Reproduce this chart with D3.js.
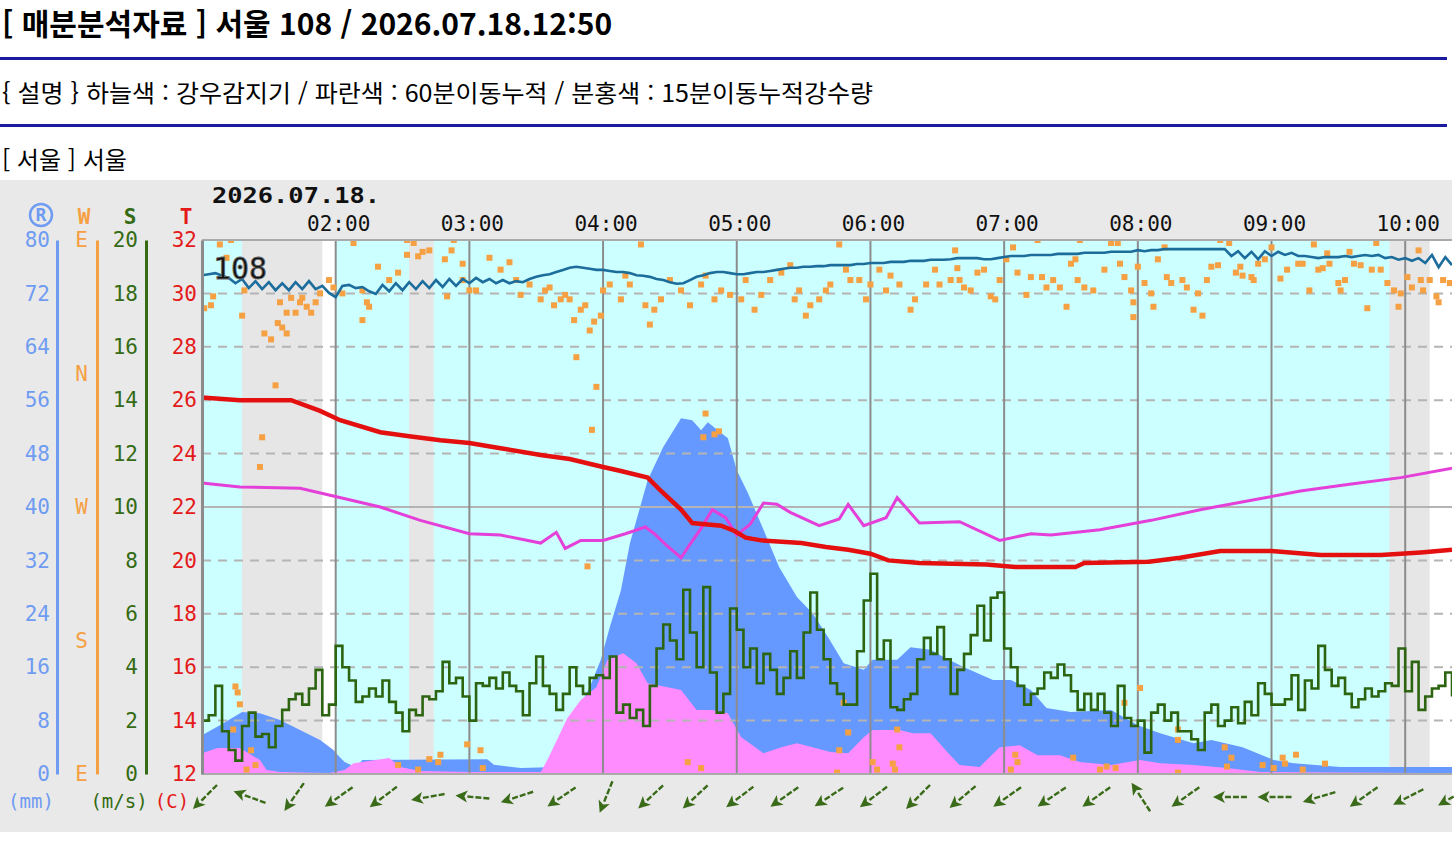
<!DOCTYPE html>
<html lang="ko">
<head>
<meta charset="utf-8">
<script src="https://cdn.jsdelivr.net/npm/d3@7"></script>
<style>
  body { margin: 0; background: #fff; }
  svg { display: block; }
</style>
</head>
<body>
<div id="chart"></div>
<script>
// Header texts.
const titleText = '[ 매분분석자료 ] 서울 108 / 2026.07.18.12:50';
const descText = '{ 설명 } 하늘색 : 강우감지기 / 파란색 : 60분이동누적 / 분홍색 : 15분이동누적강수량';
const stationText = '[ 서울 ] 서울';
const dateLabel = '2026.07.18.';
const stationNo = '108';

// Axis ticks.
const hourTicks = ['02:00', '03:00', '04:00', '05:00', '06:00', '07:00', '08:00', '09:00', '10:00'];
const tempTicks = [12, 14, 16, 18, 20, 22, 24, 26, 28, 30, 32];
const rainTicks = [0, 8, 16, 24, 32, 40, 48, 56, 64, 72, 80];
const speedTicks = [0, 2, 4, 6, 8, 10, 12, 14, 16, 18, 20];
const dirTickVals = [90, 0, -90, -180, -270];
const dirTickLabels = ['E', 'N', 'W', 'S', 'E'];

// Rain sensor bands (minutes after 01:00).
const bandStart = [0, 18, 54, 60, 93, 104, 533, 551];
const bandEnd = [18, 54, 60, 93, 104, 533, 551, 561];
const bandKind = ['rain', 'dry', 'none', 'rain', 'dry', 'rain', 'dry', 'none'];

// Temperature (C).
const tempMin = [0, 17, 40, 53, 62, 80, 93, 107, 120, 134, 152, 165, 180, 188, 200, 206, 215, 220, 233, 239,
  244, 251, 269, 280, 290, 300, 308, 322, 352, 365, 392, 396, 425, 439, 457, 480, 502, 529, 547, 561];
const tempVal = [26.1, 26.0, 26.0, 25.6, 25.25, 24.8, 24.65, 24.5, 24.4, 24.2, 23.95, 23.8, 23.5, 23.35, 23.1, 22.6, 21.9, 21.4, 21.3, 21.1,
  20.85, 20.75, 20.65, 20.5, 20.4, 20.25, 20.0, 19.9, 19.85, 19.75, 19.75, 19.9, 19.95, 20.1, 20.35, 20.35, 20.2, 20.2, 20.3, 20.4];

// Magenta line, read on the T scale.
const magMin = [0, 17, 44, 57, 80, 98, 120, 134, 152, 159, 163, 170, 180, 190, 199, 203, 208, 215, 219, 224,
  229, 235, 240, 246, 252, 258, 264, 277, 286, 290, 297, 307, 312, 322, 340, 358, 372, 381, 403, 426,
  448, 471, 493, 515, 538, 561];
const magVal = [22.9, 22.75, 22.7, 22.45, 22.0, 21.5, 21.0, 20.95, 20.65, 21.05, 20.45, 20.75, 20.75, 21.0, 21.25, 21.0, 20.6, 20.1, 20.6, 21.2,
  21.9, 21.6, 20.95, 21.35, 22.15, 22.1, 21.8, 21.3, 21.55, 22.1, 21.3, 21.6, 22.35, 21.4, 21.45, 20.75, 21.0, 20.95, 21.15, 21.5,
  21.9, 22.25, 22.6, 22.85, 23.1, 23.45];

// 60-minute moving accumulation (mm).
const rain60Min = [0, 8, 18, 26, 35, 44, 53, 59, 61, 64, 69, 72, 128, 131, 143, 155, 159, 164, 168, 174,
  179, 183, 188, 192, 200, 207, 215, 220, 224, 227, 236, 240, 245, 252, 259, 267, 274, 281, 288, 297,
  301, 312, 318, 327, 333, 342, 355, 363, 372, 379, 390, 408, 420, 430, 445, 453, 467, 481, 490, 511, 561];
const rain60Val = [5.8, 7.3, 9.3, 9.1, 8.1, 6.6, 5.1, 3.6, 2.8, 1.8, 1.0, 2.1, 2.2, 1.4, 0.9, 1.0, 2.5, 6.1, 9.1, 13.0,
  17.1, 22.0, 27.5, 34.5, 44.0, 49.0, 53.3, 53.0, 51.5, 52.7, 50.3, 45.5, 42.1, 36.6, 31.0, 26.5, 24.1, 20.5, 16.6, 15.6,
  17.1, 17.1, 19.0, 18.6, 17.5, 16.0, 14.1, 14.1, 12.6, 9.9, 9.3, 9.6, 7.3, 6.1, 4.6, 5.1, 4.0, 2.1, 1.6, 1.05, 1.05];

// 15-minute moving accumulation (mm).
const rain15Min = [0, 7, 17, 26, 29, 35, 57, 64, 68, 78, 84, 89, 98, 120, 152, 155, 164, 170, 177, 182,
  189, 195, 200, 209, 215, 222, 229, 236, 242, 252, 260, 267, 274, 282, 290, 297, 301, 313, 319, 327,
  335, 340, 349, 358, 367, 375, 385, 394, 408, 421, 430, 445, 460, 475, 550, 561];
const rain15Val = [3.1, 3.9, 3.9, 2.1, 0.6, 0.3, 0.15, 0.6, 1.6, 2.1, 2.4, 1.05, 0.45, 0.3, 0.3, 2.1, 8.4, 11.1, 13.0, 17.1,
  18.1, 16.6, 13.6, 13.0, 12.6, 9.6, 9.6, 9.1, 5.5, 3.1, 4.0, 4.6, 4.0, 3.3, 3.1, 5.5, 6.6, 6.6, 6.1, 6.1,
  3.1, 1.35, 1.05, 4.0, 4.3, 2.8, 2.8, 1.8, 1.35, 2.1, 1.6, 1.35, 0.9, 0.3, 0.15, 0.15];

// 3-minute readings from 01:00: humidity (%) and wind speed (m/s).
const STEP_MIN = 3;
const humVals = [
  93.4, 93.6, 93.8, 93.3, 92.9, 91.9, 92.7, 91.0, 92.3, 90.8,
  92.1, 90.6, 91.9, 90.6, 92.1, 90.8, 92.3, 90.8, 91.4, 90.1,
  89.3, 91.4, 91.6, 91.0, 91.2, 90.4, 89.9, 91.6, 90.4, 91.9,
  90.6, 92.1, 90.8, 92.3, 91.0, 92.5, 91.2, 92.7, 91.4, 92.7,
  91.9, 92.9, 92.1, 92.7, 91.9, 92.5, 91.9, 92.3, 92.1, 92.7,
  93.1, 93.4, 93.6, 94.0, 94.4, 94.8, 95.0, 94.8, 94.6, 94.4,
  94.4, 94.2, 94.0, 94.0, 93.8, 93.4, 93.3, 93.1, 92.7, 92.5,
  92.1, 91.8, 91.9, 92.5, 93.1, 93.4, 93.8, 94.0, 94.0, 93.8,
  93.6, 93.6, 93.8, 94.0, 94.0, 94.2, 94.4, 94.6, 94.8, 94.8,
  95.0, 95.0, 95.1, 95.1, 95.3, 95.3, 95.3, 95.3, 95.5, 95.5,
  95.7, 95.7, 95.7, 95.9, 95.9, 95.9, 96.1, 96.1, 96.1, 96.3,
  96.3, 96.3, 96.4, 96.6, 96.6, 96.6, 96.6, 96.4, 96.4, 96.6,
  96.8, 97.0, 97.0, 97.0, 97.2, 97.2, 97.2, 97.2, 97.4, 97.4,
  97.4, 97.4, 97.6, 97.6, 97.6, 97.6, 97.8, 97.8, 97.8, 97.8,
  98.1, 97.9, 98.1, 98.1, 98.3, 98.3, 98.3, 98.3, 98.3, 98.3,
  98.3, 98.3, 98.3, 98.3, 97.0, 97.9, 96.6, 97.8, 96.4, 97.9,
  97.0, 97.8, 97.2, 97.6, 97.0, 97.0, 96.8, 96.6, 96.8, 96.8,
  96.8, 97.0, 96.8, 97.0, 97.2, 97.0, 97.2, 96.6, 96.8, 96.3,
  96.6, 96.1, 96.6, 95.7, 97.2, 94.9, 96.8, 95.3];
const speedVals = [
  2.0, 2.2, 3.3, 1.6, 0.9, 0.5, 1.8, 2.3, 1.4, 1.5,
  1.0, 1.8, 2.4, 2.8, 3.0, 2.6, 3.2, 3.9, 2.2, 2.6,
  4.8, 4.0, 3.5, 2.7, 2.9, 3.2, 2.9, 3.5, 2.7, 2.3,
  1.6, 2.4, 2.2, 2.9, 2.8, 3.1, 4.2, 3.4, 3.6, 2.9,
  2.0, 3.4, 3.3, 3.6, 3.2, 3.8, 3.3, 3.1, 2.2, 3.4,
  4.4, 3.3, 3.0, 2.4, 3.0, 4.0, 3.3, 3.0, 3.6, 3.7,
  3.6, 4.4, 2.3, 2.6, 2.1, 2.4, 1.8, 3.3, 4.7, 5.6,
  5.0, 4.3, 6.9, 5.3, 4.0, 7.0, 3.8, 2.3, 3.0, 6.2,
  5.4, 4.0, 4.7, 3.4, 4.5, 3.9, 3.0, 3.6, 4.6, 3.6,
  5.3, 6.8, 5.4, 4.3, 3.4, 3.0, 2.6, 2.6, 4.6, 6.5,
  7.5, 4.3, 5.0, 2.5, 2.4, 2.8, 3.0, 4.3, 5.1, 4.5,
  5.5, 4.3, 3.0, 3.9, 4.5, 5.2, 6.3, 5.0, 6.6, 6.8,
  4.7, 4.0, 3.3, 2.6, 3.0, 3.2, 3.8, 3.6, 4.1, 3.7,
  3.1, 2.4, 3.0, 2.4, 3.0, 2.3, 1.8, 3.3, 2.1, 1.8,
  2.0, 0.8, 2.3, 2.6, 2.0, 2.3, 1.6, 1.6, 1.3, 0.9,
  2.3, 2.6, 1.8, 2.0, 2.5, 1.9, 2.7, 2.2, 3.4, 3.0,
  2.6, 2.6, 2.8, 3.7, 2.4, 3.5, 3.2, 4.8, 3.9, 3.3,
  3.6, 3.0, 2.5, 2.8, 3.2, 2.9, 3.1, 3.4, 3.3, 4.7,
  3.1, 4.2, 2.4, 2.9, 3.2, 3.3, 3.8, 2.9];

// Wind direction dots (minute after 01:00, degrees).
const dotMin = [1, 4, 5, 8, 13, 11, 18, 19, 28, 31, 34, 36, 38, 35, 38, 40, 42, 44, 45, 47,
  49, 51, 53, 57, 59, 63, 68, 72, 74, 75, 72, 79, 84, 88, 92, 95, 92, 97, 99, 102,
  109, 110, 113, 112, 117, 117, 120, 123, 33, 27, 26,
  15, 16, 17, 14, 22, 24, 20, 88, 97, 102, 106, 107, 119, 125, 126, 173,
  129, 134, 138, 141, 143, 147, 152, 154, 156, 158, 161, 163, 165, 167, 170, 172, 174, 176, 179, 180,
  183, 188, 190, 192, 197, 199, 201, 203, 206, 210, 215, 219, 224, 226, 230, 233, 237, 242, 244, 248,
  251, 255, 260, 264, 266, 268, 271, 273, 277, 280, 282, 286, 289, 291, 295, 298, 300, 304, 307, 309,
  313, 318, 320, 325, 329, 331, 336,
  168, 177, 175, 226, 225, 230, 232, 218, 224, 288, 290, 286, 285, 301, 303, 310, 311, 313, 312,
  338, 339, 340, 342, 345, 348, 351, 354, 356, 358, 361, 364, 366, 370, 372, 375, 377, 379, 382, 385,
  388, 390, 392, 393, 394, 396, 400, 405, 408, 411, 412, 414, 417, 418, 418, 420, 423, 426, 427, 429,
  432, 433, 435, 440, 442, 445, 447, 449, 451, 453, 456, 457, 461, 464, 466, 467, 471, 472, 474, 477,
  480, 484, 487, 492, 494, 497, 499, 501, 503, 505, 506, 510, 511, 513, 515, 517, 520, 523, 525, 527,
  529, 532, 535, 537, 538, 541, 543, 546, 547, 548, 551, 554, 555, 557, 560,
  365, 366, 363, 391, 403, 406, 410, 414, 421, 438, 438, 438, 459, 462, 460, 476, 485, 486, 491, 494, 504, 481];
const dotDir = [44, 46, 52, 87, 90, 78, 39, 56, 27, 23, 34, 31, 27, 48, 41, 51, 41, 48, 51, 45,
  41, 48, 54, 63, 58, 54, 88, 56, 48, 45, 36, 72, 63, 68, 90, 88, 80, 79, 82, 83,
  77, 52, 90, 83, 74, 63, 56, 56, 352, 317, 297,
  149, 145, 137, 120, 106, 96, 93, 96, 93, 100, 98, 103, 110, 106, 94, 230,
  78, 70, 75, 63, 53, 60, 50, 56, 58, 46, 50, 53, 50, 36, 43, 46, 29, 35, 39, 56,
  60, 50, 66, 60, 87, 46, 33, 43, 50, 63, 56, 46, 60, 66, 50, 56, 53, 50, 63, 43,
  53, 63, 68, 73, 50, 56, 39, 46, 50, 56, 60, 87, 70, 63, 63, 50, 60, 70, 56, 66,
  60, 43, 50, 60, 70, 60, 63,
  11, 351, 322, 333, 317, 319, 321, 98, 94, 138, 118, 106, 91, 98, 93, 97, 93, 108, 120,
  83, 71, 63, 58, 56, 68, 70, 52, 50, 63, 77, 85, 68, 53, 65, 90, 65, 58, 63, 58,
  45, 74, 77, 63, 90, 58, 56, 70, 88, 88, 74, 65, 56, 38, 48, 72, 61, 54, 45, 77,
  85, 65, 61, 63, 58, 43, 54, 39, 63, 72, 73, 90, 88, 68, 72, 66, 65, 63, 74, 77,
  85, 64, 70, 74, 74, 56, 87, 70, 71, 81, 74, 61, 56, 63, 82, 74, 73, 44, 70, 88,
  70, 61, 56, 45, 54, 65, 58, 83, 63, 56, 63, 52, 48, 63, 61,
  103, 98, 93, 101, 93, 95, 94, 138, 148, 120, 113, 91, 108, 101, 95, 96, 101, 97, 103, 93, 97, 94];

// Wind arrows every 20 minutes from 01:00 (direction wind blows from, degrees).
const ARROW_STEP_MIN = 20;
const arrowDir = [45, 110, 35, 55, 53, 80, 95, 72, 56, 22, 47, 47, 53, 55, 57, 53, 45, 50, 55, 56,
  55, 147, 55, 90, 90, 73, 55, 63, 60];

// Dimensions.
const width = 1454, height = 846;
const plot = { left: 202, right: 1452, top: 240, bottom: 774 };

const t0 = new Date(2026, 6, 18, 1, 0);
const at = m => d3.timeMinute.offset(t0, m);
const parseHour = d3.timeParse('%Y-%m-%d %H:%M');

// Scales.
const xScale = d3.scaleTime().domain([at(0), at(561)]).range([plot.left, plot.right]);
const yT = d3.scaleLinear().domain([12, 32]).range([plot.bottom, plot.top]);
const yR = d3.scaleLinear().domain([0, 80]).range([plot.bottom, plot.top]);
const yS = d3.scaleLinear().domain([0, 20]).range([plot.bottom, plot.top]);
const yH = d3.scaleLinear().domain([0, 100]).range([plot.bottom, plot.top]);
const yDir = d3.scaleLinear().domain([90, -270]).range([plot.top, plot.bottom]);
const unwrap = d => (d > 90 ? d - 360 : d);

const bandColor = { rain: '#ccffff', dry: '#e6e6e6', none: '#ffffff' };
const mono = "'DejaVu Sans Mono', monospace";
const kr = "'Noto Sans CJK KR', 'Noto Sans', sans-serif";

const svg = d3.select('#chart').append('svg')
  .attr('width', width)
  .attr('height', height);

// Page header.
svg.append('text')
  .attr('x', 2).attr('y', 35)
  .attr('font-family', kr).attr('font-size', 30).attr('font-weight', 'bold')
  .text(titleText);
svg.append('rect').attr('x', 0).attr('y', 57).attr('width', 1447).attr('height', 3).attr('fill', '#1b1ba0');
svg.append('text')
  .attr('x', 2).attr('y', 102)
  .attr('font-family', kr).attr('font-size', 24)
  .attr('textLength', 871).attr('lengthAdjust', 'spacingAndGlyphs')
  .text(descText);
svg.append('rect').attr('x', 0).attr('y', 124).attr('width', 1447).attr('height', 3).attr('fill', '#1b1ba0');
svg.append('text')
  .attr('x', 2).attr('y', 169)
  .attr('font-family', kr).attr('font-size', 24)
  .attr('textLength', 125).attr('lengthAdjust', 'spacingAndGlyphs')
  .text(stationText);

// Chart panel.
svg.append('rect').attr('x', 0).attr('y', 180).attr('width', plot.right).attr('height', 652).attr('fill', '#e9e9e9');

svg.append('defs').append('clipPath').attr('id', 'plot-clip')
  .append('rect')
  .attr('x', plot.left).attr('y', plot.top)
  .attr('width', plot.right - plot.left).attr('height', plot.bottom - plot.top);

const chart = svg.append('g').attr('clip-path', 'url(#plot-clip)');

// Rain sensor bands.
chart.selectAll('.band')
  .data(bandStart.map((s, i) => ({ s, e: bandEnd[i], kind: bandKind[i] })))
  .enter().append('rect')
  .attr('class', 'band')
  .attr('x', d => xScale(at(d.s)))
  .attr('y', plot.top)
  .attr('width', d => xScale(at(d.e)) - xScale(at(d.s)))
  .attr('height', plot.bottom - plot.top)
  .attr('fill', d => bandColor[d.kind]);

// Rain areas.
const areaGen = d3.area()
  .x(d => xScale(at(d.m)))
  .y0(yR(0))
  .y1(d => yR(d.v));
chart.append('path')
  .attr('d', areaGen(rain60Min.map((m, i) => ({ m, v: rain60Val[i] }))))
  .attr('fill', '#6699ff');
chart.append('path')
  .attr('d', areaGen(rain15Min.map((m, i) => ({ m, v: rain15Val[i] }))))
  .attr('fill', '#ff8cff');

// Grid.
chart.selectAll('.hgrid')
  .data(tempTicks.filter(t => t > 12 && t < 32))
  .enter().append('line')
  .attr('x1', plot.left).attr('x2', plot.right)
  .attr('y1', d => yT(d)).attr('y2', d => yT(d))
  .attr('stroke', '#b4b4b4').attr('stroke-width', 2)
  .attr('stroke-dasharray', d => (d === 22 ? null : '9,7'));

chart.selectAll('.vgrid')
  .data(hourTicks)
  .enter().append('line')
  .attr('x1', d => xScale(parseHour('2026-07-18 ' + d)))
  .attr('x2', d => xScale(parseHour('2026-07-18 ' + d)))
  .attr('y1', plot.top).attr('y2', plot.bottom)
  .attr('stroke', '#8c8c8c').attr('stroke-width', 2);

[32, 12].forEach(t => {
  svg.append('line')
    .attr('x1', plot.left).attr('x2', plot.right)
    .attr('y1', yT(t)).attr('y2', yT(t))
    .attr('stroke', '#aaaaaa').attr('stroke-width', 2);
});

// Wind direction dots.
chart.selectAll('.dir-dot')
  .data(dotMin.map((m, i) => ({ m, d: dotDir[i] })))
  .enter().append('rect')
  .attr('x', d => xScale(at(d.m)) - 3)
  .attr('y', d => yDir(unwrap(d.d)) - 3)
  .attr('width', 6).attr('height', 6)
  .attr('fill', '#f5a042');

// Humidity line.
const stepLine = (yFn) => d3.line()
  .x((d, i) => xScale(at(i * STEP_MIN)))
  .y(d => yFn(d));

chart.append('path')
  .attr('d', stepLine(yH)(humVals))
  .attr('fill', 'none').attr('stroke', '#1c6c9c').attr('stroke-width', 2.6);

// Magenta and temperature lines.
const tLine = d3.line().x(d => xScale(at(d.m))).y(d => yT(d.v));
chart.append('path')
  .attr('d', tLine(magMin.map((m, i) => ({ m, v: magVal[i] }))))
  .attr('fill', 'none').attr('stroke', '#e43fd8').attr('stroke-width', 3);
chart.append('path')
  .attr('d', tLine(tempMin.map((m, i) => ({ m, v: tempVal[i] }))))
  .attr('fill', 'none').attr('stroke', '#e41010').attr('stroke-width', 4.5);

// Wind speed line.
chart.append('path')
  .attr('d', stepLine(yS).curve(d3.curveStepAfter)(speedVals))
  .attr('fill', 'none').attr('stroke', '#2c6410').attr('stroke-width', 2.6);

// Station label inside plot.
svg.append('text')
  .attr('x', 213).attr('y', 279)
  .attr('font-family', mono).attr('font-size', 30)
  .attr('fill', '#111')
  .attr('stroke', '#666').attr('stroke-width', 0.8)
  .text(stationNo);

// Left axes.
function styleAxis(g, lineColor, lineWidth, textColor) {
  g.select('.domain').attr('stroke', lineColor).attr('stroke-width', lineWidth);
  g.selectAll('.tick line').remove();
  g.selectAll('.tick text')
    .attr('fill', textColor)
    .attr('font-family', mono)
    .attr('font-size', 21);
}

svg.append('g')
  .attr('transform', 'translate(57,0)')
  .call(d3.axisLeft(yR).tickValues(rainTicks).tickSize(0).tickPadding(7))
  .call(g => styleAxis(g, '#6f9cf2', 3, '#6f9cf2'));

svg.append('g')
  .attr('transform', 'translate(97,0)')
  .call(d3.axisLeft(yDir).tickValues(dirTickVals).tickFormat((d, i) => dirTickLabels[i]).tickSize(0).tickPadding(9))
  .call(g => styleAxis(g, '#f5a042', 3, '#f5a042'));

svg.append('g')
  .attr('transform', 'translate(146,0)')
  .call(d3.axisLeft(yS).tickValues(speedTicks).tickSize(0).tickPadding(8))
  .call(g => styleAxis(g, '#346b14', 3, '#346b14'));

svg.append('g')
  .attr('transform', `translate(${plot.left},0)`)
  .call(d3.axisLeft(yT).tickValues(tempTicks).tickSize(0).tickPadding(5))
  .call(g => styleAxis(g, '#8c8c8c', 3, '#e41a1a'));

// Axis headers.
const rg = svg.append('g').attr('transform', 'translate(41,215)');
rg.append('circle').attr('r', 11).attr('fill', 'none').attr('stroke', '#6f9cf2').attr('stroke-width', 2.5);
rg.append('text').attr('text-anchor', 'middle').attr('dy', '0.36em')
  .attr('font-family', mono).attr('font-size', 18).attr('font-weight', 'bold')
  .attr('fill', '#6f9cf2').text('R');
const heads = [
  { x: 84, t: 'W', c: '#f5a042' },
  { x: 130, t: 'S', c: '#346b14' },
  { x: 186, t: 'T', c: '#e41a1a' }
];
svg.selectAll('.head')
  .data(heads)
  .enter().append('text')
  .attr('x', d => d.x).attr('y', 224)
  .attr('text-anchor', 'middle')
  .attr('font-family', mono).attr('font-size', 21).attr('font-weight', 'bold')
  .attr('fill', d => d.c)
  .text(d => d.t);

// Units.
const units = [
  { x: 31, t: '(mm)', c: '#6f9cf2' },
  { x: 119, t: '(m/s)', c: '#346b14' },
  { x: 172, t: '(C)', c: '#e41a1a' }
];
svg.selectAll('.unit')
  .data(units)
  .enter().append('text')
  .attr('x', d => d.x).attr('y', 808)
  .attr('text-anchor', 'middle')
  .attr('font-family', mono).attr('font-size', 19)
  .attr('fill', d => d.c)
  .text(d => d.t);

// Date and hour labels.
svg.append('text')
  .attr('x', 212).attr('y', 203)
  .attr('font-family', mono).attr('font-size', 21).attr('font-weight', 'bold')
  .attr('textLength', 168).attr('lengthAdjust', 'spacingAndGlyphs')
  .attr('fill', '#111')
  .text(dateLabel);

svg.selectAll('.hour-label')
  .data(hourTicks)
  .enter().append('text')
  .attr('x', d => xScale(parseHour('2026-07-18 ' + d)) + 3)
  .attr('y', 231)
  .attr('text-anchor', 'middle')
  .attr('font-family', mono).attr('font-size', 21)
  .attr('fill', '#111')
  .text(d => d);

// Wind arrows.
const arrowLen = 34;
const arrows = svg.append('g').attr('class', 'wind-arrows');
arrowDir.forEach((dir, i) => {
  const cx = xScale(at(i * ARROW_STEP_MIN)) + 3;
  const cy = 797;
  const rad = dir * Math.PI / 180;
  const ux = -Math.sin(rad), uy = Math.cos(rad);
  const px = -uy, py = ux;
  const hx = cx + ux * arrowLen / 2, hy = cy + uy * arrowLen / 2;
  const tx = cx - ux * arrowLen / 2, ty = cy - uy * arrowLen / 2;
  const bx = hx - ux * 12, by = hy - uy * 12;
  arrows.append('line')
    .attr('x1', tx).attr('y1', ty).attr('x2', bx).attr('y2', by)
    .attr('stroke', '#3a6b18').attr('stroke-width', 2.4)
    .attr('stroke-dasharray', '6,2');
  arrows.append('path')
    .attr('d', `M${hx},${hy}L${bx + px * 6},${by + py * 6}L${bx + ux * 3},${by + uy * 3}L${bx - px * 6},${by - py * 6}Z`)
    .attr('fill', '#3a6b18');
});
</script>
</body>
</html>
